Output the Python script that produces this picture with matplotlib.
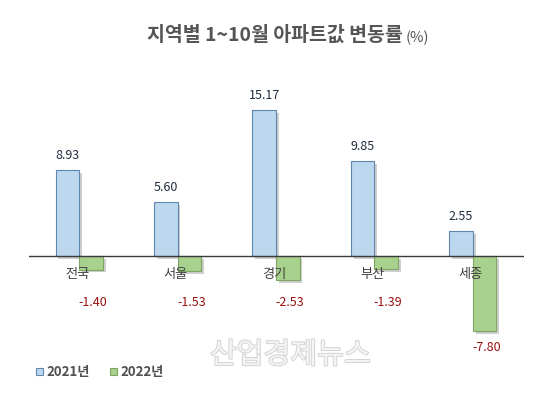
import matplotlib
matplotlib.use('Agg')
import matplotlib.pyplot as plt
import matplotlib.patheffects as pe
import numpy as np

plt.rcParams['font.family'] = ['Noto Sans CJK KR', 'DejaVu Sans']

# 데이터
regions = ['전국', '서울', '경기', '부산', '세종']
y2021 = [8.93, 5.60, 15.17, 9.85, 2.55]
y2022 = [-1.40, -1.53, -2.53, -1.39, -7.80]
series_names = ['2021년', '2022년']

blue = '#bdd7ee'
blue_edge = '#5f86ad'
green = '#a9d18e'
green_edge = '#7ea563'

fig = plt.figure(figsize=(5.48, 4.18), dpi=100)
ax = fig.add_axes([0.053, 0.1866, 0.903, 0.574])

x = np.arange(len(regions))
w = 0.24
shadow = [pe.SimplePatchShadow(offset=(2, -2), shadow_rgbFace='#888888', alpha=0.4), pe.Normal()]

b1 = ax.bar(x - w / 2, y2021, w, color=blue, edgecolor=blue_edge, linewidth=0.8, zorder=2)
b2 = ax.bar(x + w / 2, y2022, w, color=green, edgecolor=green_edge, linewidth=0.8, zorder=2)
for bar in list(b1) + list(b2):
    bar.set_path_effects(shadow)

ax.axhline(0, color='#3a3a3a', lw=1.0, zorder=3)

ax.set_xlim(-0.51, 4.52)
ax.set_ylim(-8.72, 16.2)
ax.axis('off')

# 값 표시
for xi, v in zip(x, y2021):
    ax.text(xi - w / 2, v + 1.55, f'{v:.2f}', ha='center', va='center',
            fontsize=9, color='#1f2d3d')
for xi, v in zip(x, y2022):
    ly = -4.8 if v > -5 else v - 1.7
    ax.text(xi + w / 2 + 0.02, ly, f'{v:.2f}', ha='center', va='center',
            fontsize=9, color='#9b0f0f')

# 지역명
for xi, name in zip(x, regions):
    ax.text(xi - 0.02, -1.95, name, ha='center', va='center', fontsize=9.5, color='#404040', zorder=4)

# 제목
t = fig.text(0.268, 0.915, '지역별 1~10월 아파트값 변동률', fontsize=14, fontweight='bold',
             color='#555555', ha='left', va='center')
fig.canvas.draw()
bb = t.get_window_extent(fig.canvas.get_renderer())
fig.text(bb.x1 / fig.bbox.width + 0.006, 0.91, '(%)', fontsize=10.5, color='#555555',
         ha='left', va='center')

# 범례
fig.patches.append(plt.Rectangle((0.066, 0.102), 0.013, 0.017, transform=fig.transFigure,
                                 facecolor=blue, edgecolor=blue_edge, lw=0.8))
fig.text(0.085, 0.111, series_names[0], fontsize=9.5, fontweight='bold', color='#505050', va='center')
fig.patches.append(plt.Rectangle((0.201, 0.102), 0.013, 0.017, transform=fig.transFigure,
                                 facecolor=green, edgecolor=green_edge, lw=0.8))
fig.text(0.219, 0.111, series_names[1], fontsize=9.5, fontweight='bold', color='#505050', va='center')

# 워터마크
fig.text(0.53, 0.15, '산업경제뉴스', fontsize=21, color='#f4f4f4', ha='center', va='center',
         path_effects=[pe.withStroke(linewidth=1.4, foreground='#d4d4d4')])

fig.savefig('out.png', dpi=100)
